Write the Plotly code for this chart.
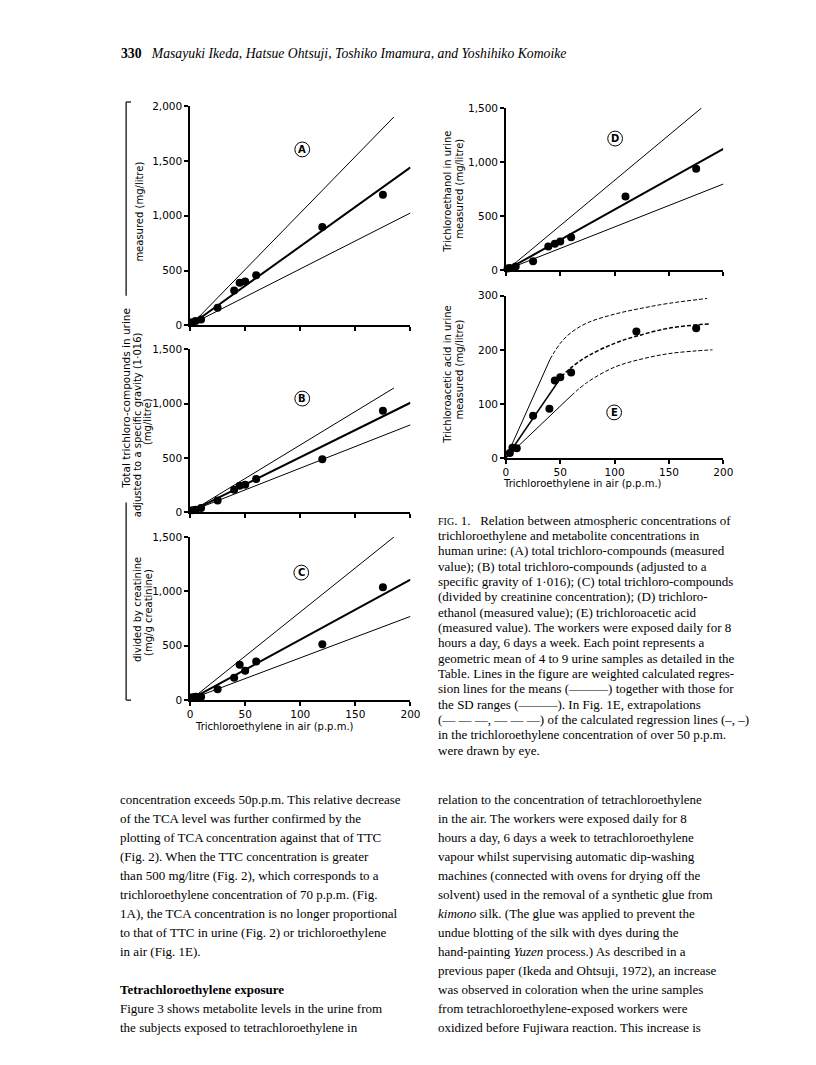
import plotly.graph_objects as go

# page is 816x1065; the browser's default 8px body margin offsets the figure
OFF = 8
W, H = 816 - OFF, 1065 - OFF

# ---------------- data ----------------
ppm = [2, 5, 10, 25, 40, 45, 50, 60, 120, 175]
ttc_measured = [30, 40, 55, 160, 318, 388, 400, 458, 897, 1191]
ttc_sg = [18, 24, 39, 109, 206, 245, 254, 305, 487, 934]
ttc_creat = [27, 30, 30, 100, 205, 326, 269, 356, 513, 1038]

ppm_tce = [1.5, 3.6, 9, 25, 39, 45, 50, 60, 110, 175]
tce_measured = [15, 18, 33, 82, 219, 243, 264, 304, 680, 938]

ppm_tca = [3.6, 6, 10, 25, 40, 45, 50, 60, 120, 175]
tca_measured = [9, 19, 18, 78, 91, 143, 149, 158, 234, 240]

# regression lines (start, end) : mean, upper SD, lower SD
lines_A = {"mean": ([2, 200], [15, 1440]), "upper": ([2, 185], [15, 1900]), "lower": ([2, 200], [15, 1025])}
lines_B = {"mean": ([2, 200], [15, 1007]), "upper": ([2, 185], [15, 1143]), "lower": ([2, 200], [15, 804])}
lines_C = {"mean": ([2, 200], [15, 1108]), "upper": ([2, 185], [15, 1500]), "lower": ([2, 200], [15, 770])}
lines_D = {"mean": ([2, 200], [10, 1120]), "upper": ([2, 180], [10, 1500]), "lower": ([2, 200], [10, 796])}

# panel E: solid calculated parts and eye-drawn extrapolations
E_upper_solid = ([0, 40.5], [0, 182])
E_mean_solid = ([0, 51], [0, 150])
E_lower_solid = ([0, 60], [0, 115])
E_upper_dash_x = [40.5, 50, 60, 75, 100, 125, 150, 185]
E_upper_dash_y = [182, 212, 232, 250, 266, 277, 286, 295]
E_mean_dash_x = [51, 60, 75, 100, 125, 150, 175, 187]
E_mean_dash_y = [150, 167, 188, 212, 228, 240, 246, 248]
E_lower_dash_x = [60, 75, 100, 125, 150, 175, 190]
E_lower_dash_y = [115, 140, 168, 183, 193, 198, 200]

ttc_ticks = [0, 500, 1000, 1500, 2000]
ttc_ticktext = ["0", "500", "1,000", "1,500", "2,000"]
tca_ticks = [0, 100, 200, 300]
ppm_ticks = [0, 50, 100, 150, 200]

# ---------------- helpers ----------------
def fx(px):
    return (px - OFF) / W

def fy(py):
    return 1 - (py - OFF) / H

SANS = "DejaVu Sans"
SERIF = "Liberation Serif"

fig = go.Figure()

panels = [
    ("", (190, 414), (101, 323), 2000, ppm, ttc_measured, lines_A),
    ("2", (190, 414), (347, 512), 1500, ppm, ttc_sg, lines_B),
    ("3", (190, 414), (537, 702), 1500, ppm, ttc_creat, lines_C),
    ("4", (511, 732), (103, 267), 1500, ppm_tce, tce_measured, lines_D),
    ("5", (511, 732), (293, 457), 300, ppm_tca, tca_measured, None),
]

layout_axes = {}
for name, xd, yd, ymax, xs, ys, lines in panels:
    xa = "x" + name
    ya = "y" + name
    if lines is not None:
        for key in ["upper", "lower", "mean"]:
            lx, ly = lines[key]
            fig.add_trace(go.Scatter(x=lx, y=ly, mode="lines", xaxis=xa, yaxis=ya,
                                     line=dict(color="black", width=2.0 if key == "mean" else 1.0),
                                     showlegend=False, hoverinfo="skip"))
    else:
        for (lx, ly), wd in [(E_upper_solid, 1.0), (E_lower_solid, 1.0), (E_mean_solid, 1.6)]:
            fig.add_trace(go.Scatter(x=lx, y=ly, mode="lines", xaxis=xa, yaxis=ya,
                                     line=dict(color="black", width=wd), showlegend=False))
        for lx, ly, wd in [(E_upper_dash_x, E_upper_dash_y, 1.0),
                           (E_lower_dash_x, E_lower_dash_y, 1.0),
                           (E_mean_dash_x, E_mean_dash_y, 1.5)]:
            fig.add_trace(go.Scatter(x=lx, y=ly, mode="lines", xaxis=xa, yaxis=ya,
                                     line=dict(color="black", width=wd, dash="4px,2px", shape="spline"),
                                     showlegend=False))
    fig.add_trace(go.Scatter(x=xs, y=ys, mode="markers", xaxis=xa, yaxis=ya,
                             marker=dict(color="black", size=8), showlegend=False, cliponaxis=False))

    show_x_labels = name in ("3", "5")
    if ymax == 300:
        tv, tt = tca_ticks, [str(v) for v in tca_ticks]
    else:
        tv = [v for v in ttc_ticks if v <= ymax]
        tt = ttc_ticktext[:len(tv)]
    common = dict(showline=True, linecolor="black", linewidth=1.5, ticks="outside",
                  ticklen=4, tickwidth=1.5, tickcolor="black", showgrid=False, zeroline=False,
                  tickfont=dict(family=SANS, size=10.5, color="black"))
    layout_axes["xaxis" + name] = dict(domain=[fx(xd[0]), fx(xd[1])], range=[0, 200],
                                       anchor=ya, tickvals=ppm_ticks, showticklabels=show_x_labels,
                                       **common)
    layout_axes["yaxis" + name] = dict(domain=[fy(yd[1]), fy(yd[0])], range=[0, ymax],
                                       anchor=xa, tickvals=tv, ticktext=tt, **common)

fig.update_layout(**layout_axes)

ann = []
shapes = []

def text(x, y, s, size=11, family=SANS, angle=0, xanchor="center", yanchor="middle", color="black"):
    ann.append(dict(x=fx(x), y=fy(y), xref="paper", yref="paper", text=s, showarrow=False,
                    textangle=angle, xanchor=xanchor, yanchor=yanchor,
                    font=dict(family=family, size=size, color=color)))

# circled panel letters
for letter, cx, cy in [("A", 304, 145), ("B", 304, 397), ("C", 303, 573), ("D", 622, 134), ("E", 621, 411)]:
    r = 7.5
    shapes.append(dict(type="circle", xref="paper", yref="paper", x0=fx(cx - r), x1=fx(cx + r),
                       y0=fy(cy + r), y1=fy(cy - r), line=dict(color="black", width=1)))
    text(cx, cy, "<b>" + letter + "</b>", size=10)

# y-axis titles
LBL = 10
text(139, 208, "measured (mg/litre)", size=LBL, angle=-90)
text(136, 423, "adjusted to a specific gravity (1·016)", size=LBL, angle=-90)
text(147, 420, "(mg/litre)", size=LBL, angle=-90)
text(136, 610, "divided by creatinine", size=LBL, angle=-90)
text(147, 613, "(mg/g creatinine)", size=LBL, angle=-90)
text(452, 188, "Trichloroethanol in urine", size=LBL, angle=-90)
text(464, 185, "measured (mg/litre)", size=LBL, angle=-90)
text(452, 373, "Trichloroacetic acid in urine", size=LBL, angle=-90)
text(464, 368, "measured (mg/litre)", size=LBL, angle=-90)

# big bracket label
text(124, 397, "Total trichloro-compounds in urine", size=10.5, angle=-90)
bx = 125
for y0, y1 in [(97, 293), (502, 702)]:
    shapes.append(dict(type="line", xref="paper", yref="paper", x0=fx(bx), x1=fx(bx),
                       y0=fy(y0), y1=fy(y1), line=dict(color="black", width=1.2)))
for yy in (97, 702):
    shapes.append(dict(type="line", xref="paper", yref="paper", x0=fx(bx), x1=fx(bx + 5),
                       y0=fy(yy), y1=fy(yy), line=dict(color="black", width=1.2)))

# x-axis titles
text(276, 729, "Trichloroethylene in air (p.p.m.)", size=10)
text(589, 483, "Trichloroethylene in air (p.p.m.)", size=10)

# header
text(118, 48, "<b>330</b>   <i>Masayuki Ikeda, Hatsue Ohtsuji, Toshiko Imamura, and Yoshihiko Komoike</i>",
     size=13.7, family=SERIF, xanchor="left")

# caption
caption = [
    "<span style='font-size:10px'>FIG</span>. 1.   Relation between atmospheric concentrations of",
    "trichloroethylene and metabolite concentrations in",
    "human urine: (A) total trichloro-compounds (measured",
    "value); (B) total trichloro-compounds (adjusted to a",
    "specific gravity of 1·016); (C) total trichloro-compounds",
    "(divided by creatinine concentration); (D) trichloro-",
    "ethanol (measured value); (E) trichloroacetic acid",
    "(measured value). The workers were exposed daily for 8",
    "hours a day, 6 days a week. Each point represents a",
    "geometric mean of 4 to 9 urine samples as detailed in the",
    "Table. Lines in the figure are weighted calculated regres-",
    "sion lines for the means (———) together with those for",
    "the SD ranges (———). In Fig. 1E, extrapolations",
    "(— — —, — — —) of the calculated regression lines (–, –)",
    "in the trichloroethylene concentration of over 50 p.p.m.",
    "were drawn by eye.",
]
for i, line in enumerate(caption):
    text(440, 520 + i * 15.5, line, size=13, family=SERIF, xanchor="left")

left_col = [
    "concentration exceeds 50p.p.m. This relative decrease",
    "of the TCA level was further confirmed by the",
    "plotting of TCA concentration against that of TTC",
    "(Fig. 2). When the TTC concentration is greater",
    "than 500 mg/litre (Fig. 2), which corresponds to a",
    "trichloroethylene concentration of 70 p.p.m. (Fig.",
    "1A), the TCA concentration is no longer proportional",
    "to that of TTC in urine (Fig. 2) or trichloroethylene",
    "in air (Fig. 1E).",
    "",
    "<b>Tetrachloroethylene exposure</b>",
    "Figure 3 shows metabolite levels in the urine from",
    "the subjects exposed to tetrachloroethylene in",
]
right_col = [
    "relation to the concentration of tetrachloroethylene",
    "in the air. The workers were exposed daily for 8",
    "hours a day, 6 days a week to tetrachloroethylene",
    "vapour whilst supervising automatic dip-washing",
    "machines (connected with ovens for drying off the",
    "solvent) used in the removal of a synthetic glue from",
    "<i>kimono</i> silk. (The glue was applied to prevent the",
    "undue blotting of the silk with dyes during the",
    "hand-painting <i>Yuzen</i> process.) As described in a",
    "previous paper (Ikeda and Ohtsuji, 1972), an increase",
    "was observed in coloration when the urine samples",
    "from tetrachloroethylene-exposed workers were",
    "oxidized before Fujiwara reaction. This increase is",
]
for i, line in enumerate(left_col):
    if line:
        text(117, 803 + i * 19.2, line, size=13, family=SERIF, xanchor="left")
for i, line in enumerate(right_col):
    text(440, 803 + i * 19.2, line, size=13, family=SERIF, xanchor="left")

fig.update_layout(width=W, height=H, margin=dict(l=0, r=0, t=0, b=0),
                  paper_bgcolor="white", plot_bgcolor="rgba(0,0,0,0)",
                  annotations=ann, shapes=shapes, showlegend=False)

fig.write_html("out.html")
